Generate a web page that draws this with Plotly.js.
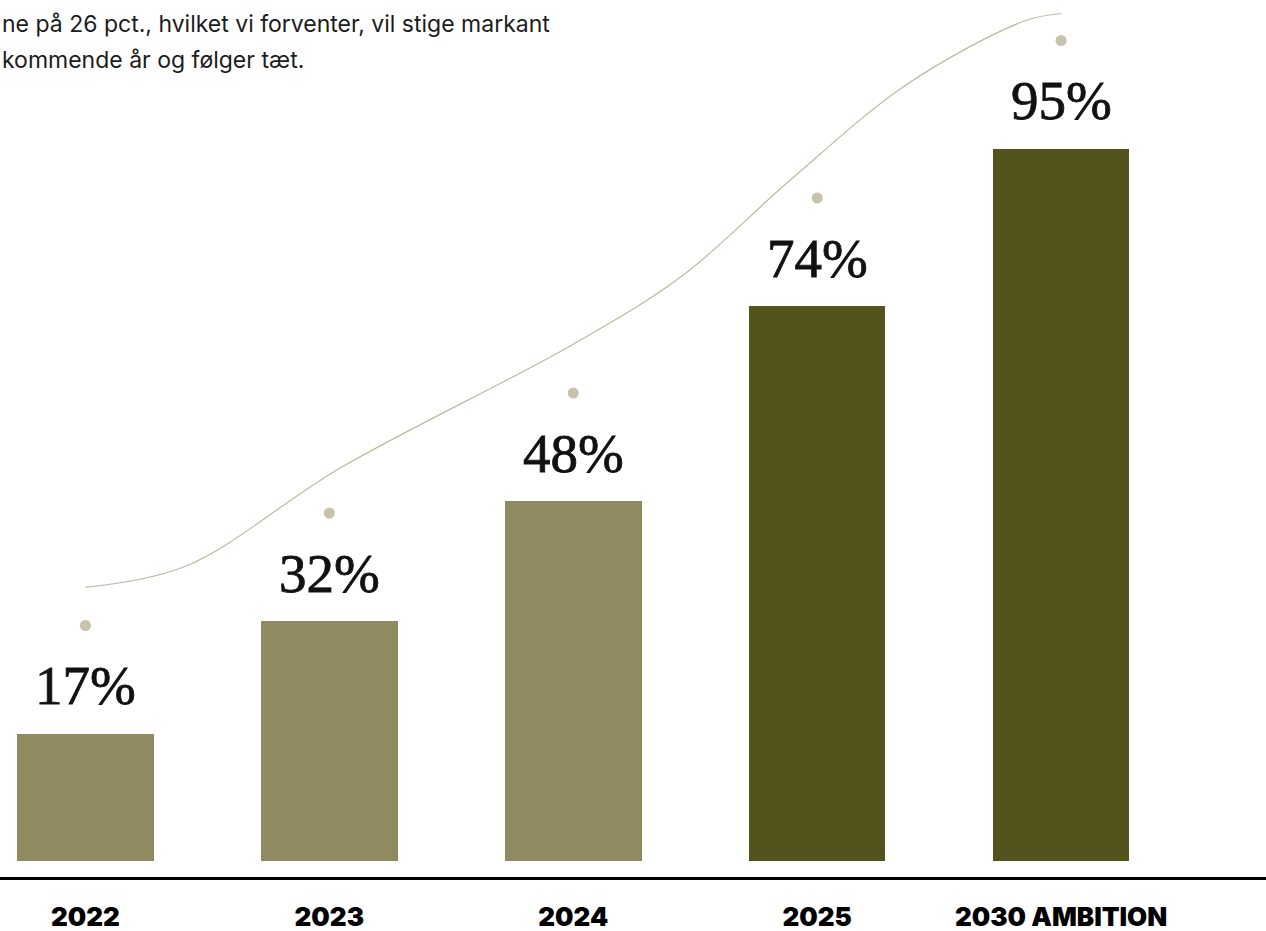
<!DOCTYPE html>
<html>
<head>
<meta charset="utf-8">
<script src="https://cdn.plot.ly/plotly-3.0.1.min.js"></script>
<style>
  html, body { margin: 0; padding: 0; background: #ffffff; }
  #chart { width: 1266px; height: 931px; }
  text.annotation-text[style*="Liberation Serif"] { stroke: #111111; stroke-width: 0.8px; }
</style>
</head>
<body>
<div id="chart"></div>
<script>
// ---- data ----
const categories = ["2022", "2023", "2024", "2025", "2030 AMBITION"];
const shareValues = [17, 32, 48, 74, 95];
const valueLabels = ["17%", "32%", "48%", "74%", "95%"];
// decorative trend curve (x in category units, y in %)
const curveX = [0, 0.41, 1.05, 2.0, 2.45, 2.89, 3.37, 3.85, 4.0];
const curveY = [36.5, 39.3, 52.5, 68.9, 78.1, 90.8, 103.6, 112.0, 113.0];
const introLines = [
  "ne på 26 pct., hvilket vi forventer, vil stige markant",
  "kommende år og følger tæt."
];

// ---- styling ----
const lightOlive = "#8f8a60";
const darkOlive = "#55531d";
const dotColor = "#c8c3ac";
const curveColor = "#bdb99f";
const dotOffset = 14.4;
const xRange = [-0.35, 4.84];

const barColors = categories.map((c, i) => (i < 3 ? lightOlive : darkOlive));

const bars = {
  type: "bar",
  x: categories,
  y: shareValues,
  width: 0.56,
  marker: { color: barColors, line: { width: 0 } },
  hoverinfo: "skip",
  showlegend: false
};

const dots = {
  type: "scatter",
  mode: "markers",
  x: categories,
  y: shareValues.map(v => v + dotOffset),
  marker: { color: dotColor, size: 11 },
  hoverinfo: "skip",
  showlegend: false,
  cliponaxis: false
};

const curve = {
  type: "scatter",
  mode: "lines",
  x: curveX,
  y: curveY,
  xaxis: "x2",
  line: { color: curveColor, width: 1.2, shape: "spline", smoothing: 1 },
  hoverinfo: "skip",
  showlegend: false,
  cliponaxis: false
};

const annotations = categories.map((c, i) => ({
  x: i,
  y: shareValues[i],
  xref: "x",
  yref: "y",
  text: valueLabels[i],
  showarrow: false,
  xanchor: "center",
  yanchor: "middle",
  yshift: 48,
  font: { family: "Liberation Serif, DejaVu Serif, serif", size: 55, color: "#111111" }
}));

const introY = [0.9726, 0.9316];
introLines.forEach((t, i) => {
  annotations.push({
    x: 0, y: introY[i], xref: "paper", yref: "paper",
    xanchor: "left", yanchor: "middle",
    text: t, showarrow: false,
    font: { family: "Inter, Noto Sans, sans-serif", size: 23, color: "#1c1c1c" }
  });
});

const layout = {
  width: 1266,
  height: 931,
  margin: { l: 0, r: 0, t: 0, b: 54 },
  paper_bgcolor: "#ffffff",
  plot_bgcolor: "#ffffff",
  bargap: 0,
  xaxis: {
    type: "category",
    range: xRange,
    showgrid: false,
    zeroline: false,
    showline: true,
    linecolor: "#000000",
    linewidth: 3,
    ticks: "",
    ticklabelstandoff: 15,
    tickfont: { family: "Inter, Noto Sans, sans-serif", size: 26, color: "#000000", weight: 900 },
    fixedrange: true
  },
  xaxis2: {
    type: "linear",
    overlaying: "x",
    range: xRange,
    visible: false,
    fixedrange: true
  },
  yaxis: {
    range: [-2.133, 114.8],
    showgrid: false,
    zeroline: false,
    showline: false,
    showticklabels: false,
    ticks: "",
    fixedrange: true
  },
  annotations: annotations
};

Plotly.newPlot("chart", [bars, curve, dots], layout, { displayModeBar: false, staticPlot: true });
</script>
</body>
</html>
